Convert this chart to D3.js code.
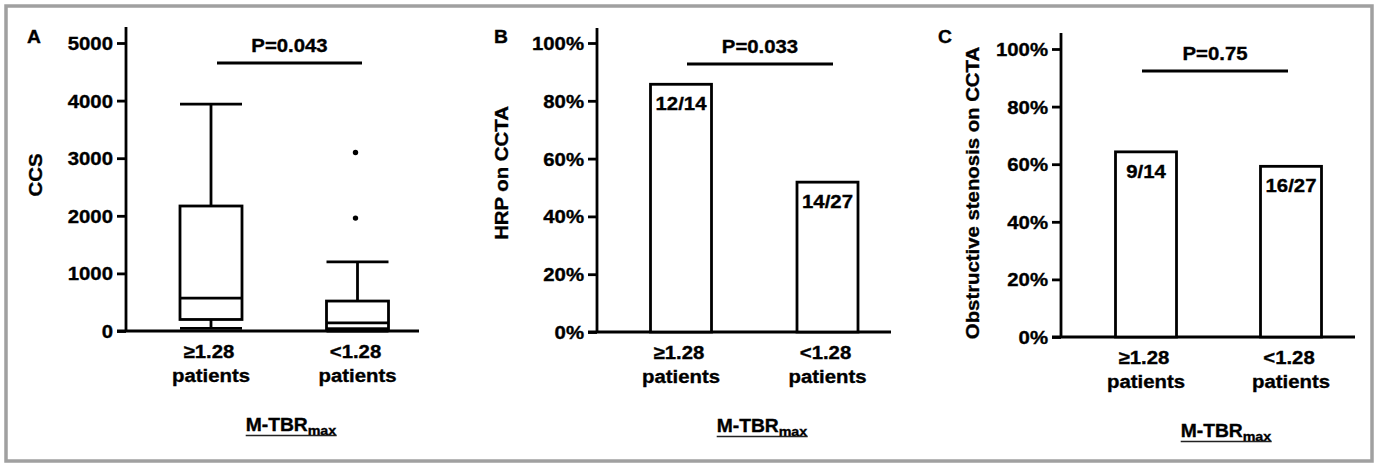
<!DOCTYPE html>
<html>
<head>
<meta charset="utf-8">
<script src="https://cdn.jsdelivr.net/npm/d3@7"></script>
<style>
  body { margin: 0; background: #fff; }
  svg text { font-family: "Liberation Sans", Arial, sans-serif; font-weight: bold; fill: #000; stroke: #000; stroke-width: 0.35px; }
</style>
</head>
<body>
<svg id="chart" width="1374" height="464"></svg>
<script>
// data
let groups = ["≥1.28", "<1.28"];
let groupSub = "patients";

// panel A: coronary calcium score box plots
let ccsBoxes = [
  { min: 45, q1: 200, median: 570, q3: 2170, max: 3940, outliers: [] },
  { min: 0, q1: 40, median: 140, q3: 520, max: 1200, outliers: [1960, 3100] }
];
let ccsTicks = [0, 1000, 2000, 3000, 4000, 5000];

// panel B: high-risk plaque
let hrpNum = [12, 14];
let hrpDen = [14, 27];

// panel C: obstructive stenosis
let stenNum = [9, 16];
let stenDen = [14, 27];

let pctTicks = [0, 0.2, 0.4, 0.6, 0.8, 1];
let pValues = ["P=0.043", "P=0.033", "P=0.75"];
let yTitles = ["CCS", "HRP on CCTA", "Obstructive stenosis on CCTA"];
let panelLetters = ["A", "B", "C"];

let sx = 1.1;   // the original font runs a bit wider than Arial
let fontSize = 18.5;
let stroke = 2.8;

let svg = d3.select("#chart");

svg.append("rect")
  .attr("x", 6).attr("y", 6)
  .attr("width", 1366).attr("height", 455)
  .attr("fill", "none")
  .attr("stroke", "#a0a0a0")
  .attr("stroke-width", 3.5);

function txt(g, x, y, s, anchor, size, rot){
  return g.append("text")
    .attr("transform", `translate(${x},${y}) rotate(${rot || 0}) scale(${sx},1)`)
    .attr("text-anchor", anchor || "middle")
    .style("font-size", (size || fontSize) + "px")
    .text(s);
}

// layout of each panel (pixels)
let panels = [
  { ax: 126, y0: 331, yTop: 43, axTop: 27, xEnd: 419, c: [211, 357.5], bw: 62,
    pLine: [217, 362, 63], titleX: 42, titleY: 175 , letterX: 27 },
  { ax: 597, y0: 332, yTop: 43, axTop: 28, xEnd: 891, c: [681, 827.5], bw: 61,
    pLine: [687, 833, 64], titleX: 508, titleY: 173, letterX: 494 },
  { ax: 1061, y0: 337, yTop: 49, axTop: 33, xEnd: 1355, c: [1146, 1291], bw: 61,
    pLine: [1142, 1288, 71], titleX: 979, titleY: 193, letterX: 938 }
];

function drawFrame(i, y, ticks, fmt){
  let p = panels[i];
  let g = svg.append("g");
  let x = d3.scalePoint().domain(groups).range(p.c);

  // y axis
  let ax = g.append("g")
    .attr("transform", `translate(${p.ax},0)`)
    .call(d3.axisLeft(y).tickValues(ticks).tickFormat(fmt).tickSize(9).tickSizeOuter(0));
  ax.select(".domain").remove();
  ax.selectAll(".tick line").attr("stroke", "#000").attr("stroke-width", stroke);
  ax.selectAll(".tick text")
    .attr("x", null).attr("dy", null)
    .attr("transform", `translate(-13,6.5) scale(${sx},1)`)
    .style("font-size", fontSize + "px");

  g.append("line")
    .attr("x1", p.ax).attr("x2", p.ax)
    .attr("y1", p.y0).attr("y2", p.axTop)
    .attr("stroke", "#000").attr("stroke-width", stroke);
  g.append("line")
    .attr("x1", p.ax - 9).attr("x2", p.xEnd)
    .attr("y1", p.y0).attr("y2", p.y0)
    .attr("stroke", "#000").attr("stroke-width", stroke);

  // x labels
  groups.forEach(function(d){
    txt(g, x(d) - 2, p.y0 + 26.5, d);
    txt(g, x(d), p.y0 + 50.5, groupSub);
  });

  // x title with subscript, underlined
  let tx = p.ax + 165, ty = p.y0 + 100;
  let t = g.append("text")
    .attr("transform", `translate(${tx},${ty}) scale(${sx},1)`)
    .attr("text-anchor", "middle")
    .style("font-size", "17.5px");
  t.append("tspan").text("M-TBR");
  t.append("tspan").attr("dy", 4).style("font-size", "13px").text("max");
  let bb = t.node().getBBox();
  g.append("line")
    .attr("x1", tx + bb.x * sx).attr("x2", tx + (bb.x + bb.width) * sx)
    .attr("y1", ty + 4.5).attr("y2", ty + 4.5)
    .attr("stroke", "#222").attr("stroke-width", 1.5);

  // y title
  txt(g, p.titleX, p.titleY, yTitles[i], "middle", fontSize, -90);

  // panel letter
  txt(g, p.letterX, 43, panelLetters[i], "start", 17.5);

  // significance bar
  g.append("line")
    .attr("x1", p.pLine[0]).attr("x2", p.pLine[1])
    .attr("y1", p.pLine[2]).attr("y2", p.pLine[2])
    .attr("stroke", "#000").attr("stroke-width", stroke);
  txt(g, (p.pLine[0] + p.pLine[1]) / 2, p.pLine[2] - 11.5, pValues[i]);

  return { g: g, x: x };
}

// ---- panel A
(function(){
  let p = panels[0];
  let y = d3.scaleLinear().domain([0, 5000]).range([p.y0, p.yTop]);
  let f = drawFrame(0, y, ccsTicks, d3.format("d"));
  let g = f.g, x = f.x;
  let half = p.bw / 2;

  let box = g.selectAll(".box").data(ccsBoxes).enter().append("g")
    .attr("class", "box")
    .attr("transform", (d, i) => `translate(${x(groups[i])},0)`);

  box.append("line")  // whisker
    .attr("x1", 0).attr("x2", 0)
    .attr("y1", d => y(d.min)).attr("y2", d => y(d.max))
    .attr("stroke", "#000").attr("stroke-width", stroke);
  box.append("rect")
    .attr("x", -half).attr("width", p.bw)
    .attr("y", d => y(d.q3)).attr("height", d => y(d.q1) - y(d.q3))
    .attr("fill", "#fff").attr("stroke", "#000").attr("stroke-width", stroke);
  box.selectAll(".cap").data(d => [d.min, d.max, d.median]).enter().append("line")
    .attr("x1", -half).attr("x2", half)
    .attr("y1", v => y(v)).attr("y2", v => y(v))
    .attr("stroke", "#000").attr("stroke-width", stroke);
  box.selectAll(".out").data(d => d.outliers).enter().append("circle")
    .attr("cx", -2).attr("cy", v => y(v)).attr("r", 2.7)
    .attr("fill", "#000");
})();

// ---- bar panels
function barPanel(i, num, den){
  let p = panels[i];
  let y = d3.scaleLinear().domain([0, 1]).range([p.y0, p.yTop]);
  let f = drawFrame(i, y, pctTicks, d3.format(".0%"));
  let g = f.g, x = f.x;
  let vals = num.map((n, k) => n / den[k]);

  g.selectAll(".bar").data(vals).enter().append("rect")
    .attr("x", (d, k) => x(groups[k]) - p.bw / 2)
    .attr("width", p.bw)
    .attr("y", d => y(d))
    .attr("height", d => p.y0 - y(d))
    .attr("fill", "#fff").attr("stroke", "#000").attr("stroke-width", stroke);

  vals.forEach(function(v, k){
    txt(g, x(groups[k]), y(v) + 26, num[k] + "/" + den[k]);
  });
}
barPanel(1, hrpNum, hrpDen);
barPanel(2, stenNum, stenDen);
</script>
</body>
</html>
